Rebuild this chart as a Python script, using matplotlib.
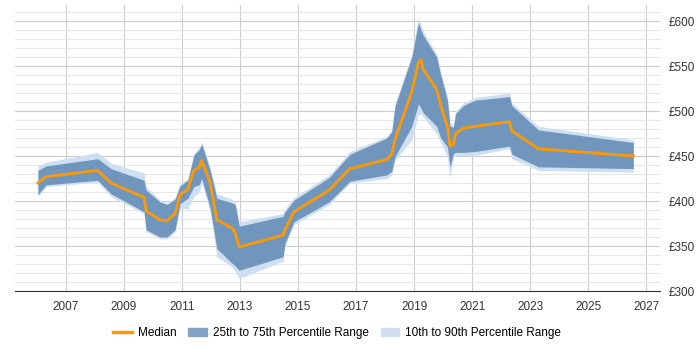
import matplotlib
matplotlib.use("Agg")
import matplotlib.pyplot as plt
from matplotlib.ticker import MultipleLocator, FuncFormatter
from matplotlib.patches import Patch
from matplotlib.lines import Line2D

years = [2006.03, 2006.31, 2008.09, 2008.55, 2009.69, 2009.76, 2010.24, 2010.48, 2010.76, 2010.93,
         2011.20, 2011.41, 2011.59, 2011.68, 2011.97, 2012.20, 2012.72, 2012.83, 2012.97, 2014.48,
         2014.55, 2014.86, 2016.07, 2016.79, 2018.06, 2018.23, 2018.34, 2018.92, 2019.15, 2019.24,
         2019.32, 2019.78, 2019.92, 2020.15, 2020.24, 2020.36, 2020.43, 2020.70, 2021.10, 2022.29,
         2022.37, 2023.29, 2026.56]
median = [420, 427, 434, 420, 404, 389, 379, 378, 386, 407,
          413, 434, 437, 445, 420, 379, 370, 365, 349, 362,
          368, 388, 412, 436, 446, 452, 468, 521, 554, 557,
          546, 524, 506, 483, 461, 463, 475, 481, 483, 488,
          478, 458, 450]
p75 = [434, 439, 447, 436, 423, 412, 399, 396, 402, 417,
       423, 451, 457, 463, 434, 403, 398, 396, 372, 383,
       388, 401, 426, 452, 470, 477, 505, 560, 598, 590,
       584, 560, 540, 512, 483, 482, 497, 506, 512, 516,
       506, 479, 465]
p25 = [407, 418, 423, 408, 388, 368, 360, 360, 368, 397,
       403, 416, 418, 425, 392, 347, 331, 328, 323, 338,
       353, 377, 399, 422, 429, 433, 449, 483, 508, 503,
       498, 483, 470, 460, 438, 453, 454, 454, 455, 461,
       452, 438, 436]
p90 = [439, 443, 454, 442, 431, 416, 401, 398, 404, 419,
       425, 453, 459, 466, 437, 408, 402, 400, 377, 386,
       391, 404, 429, 455, 472, 479, 508, 563, 604, 596,
       588, 563, 543, 516, 486, 485, 500, 509, 515, 520,
       509, 483, 468]
p10 = [405, 416, 421, 405, 386, 366, 358, 358, 366, 392,
       391, 405, 410, 420, 388, 338, 327, 322, 314, 333,
       350, 374, 396, 420, 425, 429, 445, 468, 496, 497,
       493, 475, 465, 449, 425, 449, 450, 450, 451, 458,
       447, 434, 432]

xticks = [2007, 2009, 2011, 2013, 2015, 2017, 2019, 2021, 2023, 2025, 2027]

plt.rcParams['font.family'] = ['Liberation Sans', 'DejaVu Sans']

fig = plt.figure(figsize=(7, 3.5), dpi=100)
ax = fig.add_axes([15/700, 59/350, 645/700, 286/350])

light = '#cddff0'
dark = '#7196be'
orange = '#ff9900'

ax.fill_between(years, p10, p90, color=light, lw=0, zorder=2)
ax.fill_between(years, p25, p75, color=dark, lw=0, zorder=3)
ax.plot(years, median, color=orange, lw=2, zorder=4)

ax.set_xlim(2005.24, 2027.48)
ax.set_ylim(300, 617.8)
ax.set_xticks(xticks)
ax.set_xticklabels([str(t) for t in xticks])
ax.yaxis.set_major_locator(MultipleLocator(50))
ax.yaxis.set_minor_locator(MultipleLocator(10))
ax.yaxis.set_major_formatter(FuncFormatter(lambda v, p: f"£{int(v)}"))
ax.yaxis.tick_right()
ax.tick_params(axis='y', which='both', length=0, labelsize=8.5, colors='#333333', pad=6)
ax.tick_params(axis='x', length=0, labelsize=8.5, labelcolor='#333333', pad=7)

ax.grid(axis='y', which='major', color='#cccccc', lw=0.8, zorder=0)
ax.grid(axis='y', which='minor', color='#e6e6e6', lw=0.8, zorder=0)
ax.grid(axis='x', which='major', color='#cccccc', lw=0.8, zorder=0)
ax.set_axisbelow(True)
for s in ['top', 'right', 'left']:
    ax.spines[s].set_visible(False)
ax.spines['bottom'].set_color('#333333')

handles = [Line2D([0], [0], color=orange, lw=2.5),
           Patch(color='#86a3c3'),
           Patch(color='#d0e0ef')]
labels = ['Median', '25th to 75th Percentile Range', '10th to 90th Percentile Range']
fig.legend(handles, labels, loc='center', bbox_to_anchor=(337/700, 17/350), ncol=3,
           frameon=False, fontsize=8.5, handlelength=1.6, handletextpad=0.5, columnspacing=1.0)

fig.savefig('out.png', dpi=100)
